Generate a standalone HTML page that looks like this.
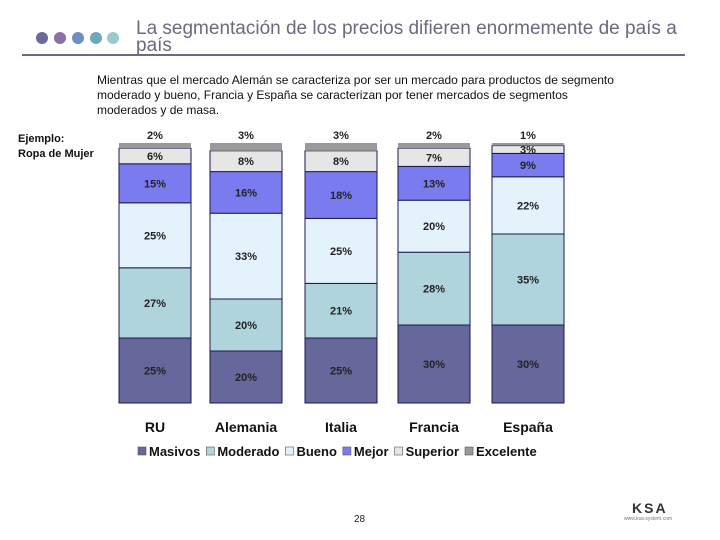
<!DOCTYPE html>
<html><head><meta charset="utf-8"><style>
body{margin:0;width:720px;height:540px;background:#fff;position:relative;overflow:hidden;font-family:"Liberation Sans",Arial,sans-serif}
.a{position:absolute;white-space:nowrap}
</style></head><body>
<svg class="a" style="left:0;top:0" width="720" height="70">
<circle cx="42" cy="38" r="6" fill="#6a6a9a"/><circle cx="60" cy="38" r="6" fill="#8a70a8"/><circle cx="78" cy="38" r="6" fill="#6f8fc0"/><circle cx="96" cy="38" r="6" fill="#6fa8b8"/><circle cx="113" cy="38" r="6" fill="#9cc8d0"/>
<line x1="22" y1="55" x2="685" y2="55" stroke="#6a6a80" stroke-width="2"/>
</svg>
<div class="a" style="left:136px;top:20px;font-size:19px;line-height:17px;color:#6a6a80">La segmentación de los precios difieren enormemente de país a<br>país</div>
<div class="a" style="left:97px;top:73px;font-size:12px;line-height:15px;color:#111">Mientras que el mercado Alemán se caracteriza por ser un mercado para productos de segmento<br>moderado y bueno, Francia y España se caracterizan por tener mercados de segmentos<br>moderados y de masa.</div>
<div class="a" style="left:18px;top:132px;font-size:11px;line-height:15px;font-weight:bold;color:#111">Ejemplo:<br>Ropa de Mujer</div>
<svg id="chart" class="a" style="left:0;top:0" width="720" height="540"></svg>
<div class="a" style="left:354px;top:514px;font-size:10px;color:#222">28</div>
<div class="a" style="left:632px;top:500px;font-size:14px;font-weight:bold;letter-spacing:2px;color:#333">KSA</div>
<div class="a" style="left:624px;top:516px;font-size:5px;color:#777">www.ksa-system.com</div>
<script>
const categories=["RU","Alemania","Italia","Francia","España"];
const seriesNames=["Masivos","Moderado","Bueno","Mejor","Superior","Excelente"];
const masivos=[25,20,25,30,30];
const moderado=[27,20,21,28,35];
const bueno=[25,33,25,20,22];
const mejor=[15,16,18,13,9];
const superior=[6,8,8,7,3];
const excelente=[2,3,3,2,1];
const series=[masivos,moderado,bueno,mejor,superior,excelente];
const colors=["#66679a","#b0d4dc","#e4f2fc","#7b7bf0","#e6e6e6","#999999"];
const svg=document.getElementById('chart');
const NS='http://www.w3.org/2000/svg';
const barLeft=[119,210,305,398,492],barW=72;
const y0=403,y1=143;
const y=v=>y0-(y0-y1)*v/100;
function el(t,a){const e=document.createElementNS(NS,t);for(const k in a)e.setAttribute(k,a[k]);svg.appendChild(e);return e;}
categories.forEach((c,i)=>{
  let cum=0;
  const x=barLeft[i];
  series.forEach((s,j)=>{
    const v=s[i];const top=y(cum+v),bot=y(cum);
    const r=el('rect',{x:x,y:top,width:barW,height:bot-top,fill:colors[j],stroke:j==5?colors[j]:'#1a1a50','stroke-width':j==5?0:1});
    
    
    let ly=(top+bot)/2+4;
    if(j==5) ly=top-4;
    if(j==4 && v<5) ly=top+8;
    const t=el('text',{x:x+barW/2,y:ly,'text-anchor':'middle','font-size':11,'font-weight':'bold',fill:'#222','font-family':'Liberation Sans, sans-serif'});
    t.textContent=v+'%';
    
    
    cum+=v;
  });
  const ct=el('text',{x:x+barW/2,y:432,'text-anchor':'middle','font-size':14,'font-weight':'bold',fill:'#111','font-family':'Liberation Sans, sans-serif'});
  ct.textContent=c;
  
  
});
let lx=138;
seriesNames.forEach((n,j)=>{
  const r=el('rect',{x:lx,y:447,width:8,height:8,fill:colors[j],stroke:'#555','stroke-width':0.6});
  
  
  const t=el('text',{x:lx+11,y:456,'font-size':13,'font-weight':'bold',fill:'#111','font-family':'Liberation Sans, sans-serif'});
  t.textContent=n;
  
  
  lx+=11+t.getComputedTextLength()+6;
});
</script>
</body></html>
